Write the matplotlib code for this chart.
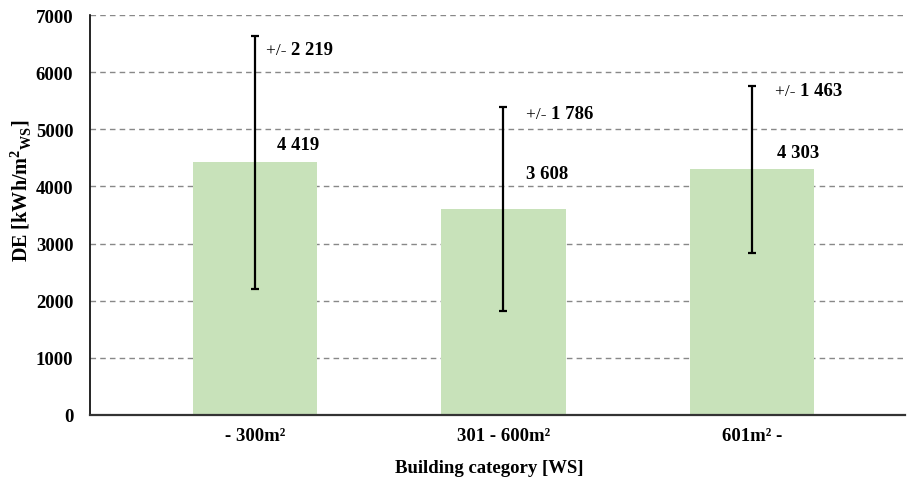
import numpy as np
import matplotlib.pyplot as plt

plt.rcParams['font.family'] = ['Liberation Serif', 'DejaVu Serif']
plt.rcParams['font.weight'] = 'bold'
plt.rcParams['mathtext.fontset'] = 'custom'
plt.rcParams['mathtext.rm'] = 'Liberation Serif:bold'
plt.rcParams['mathtext.bf'] = 'Liberation Serif:bold'

categories = ['- 300m²', '301 - 600m²', '601m² -']
de_mean = [4419, 3608, 4303]
de_std = [2219, 1786, 1463]
yticks = [0, 1000, 2000, 3000, 4000, 5000, 6000, 7000]

# label offsets in pixels: (dx from bar centre, dy from bar top / error top)
mean_offsets = [(22, 18), (23, 35), (25, 17)]
std_offsets = [(11, -14), (23, -7), (23, -5)]

FS = 13.5

def fmt(v):
    return f'{v:,}'.replace(',', ' ')

fig = plt.figure(figsize=(9.07, 4.85), dpi=100)
ax = fig.add_axes([0.0992, 0.1423, 0.8986, 0.8247])

x = np.arange(len(categories))
ax.bar(x, de_mean, width=0.5, color='#C8E2BA', zorder=2)
ax.errorbar(x, de_mean, yerr=de_std, fmt='none', ecolor='black',
            elinewidth=1.6, capsize=3, capthick=1.6, zorder=3)

for i in range(len(x)):
    dx, dy = mean_offsets[i]
    ax.annotate(fmt(de_mean[i]), (x[i], de_mean[i]), xytext=(dx, dy),
                textcoords='offset pixels', ha='left', va='center',
                fontsize=FS, fontweight='bold')
    dx, dy = std_offsets[i]
    pm = ax.annotate('+/- ', (x[i], de_mean[i] + de_std[i]), xytext=(dx, dy),
                     textcoords='offset pixels', ha='left', va='center',
                     fontsize=12.5, fontweight='normal')
    ax.annotate(fmt(de_std[i]), xy=(1, 0.5), xycoords=pm,
                xytext=(0, 0), textcoords='offset pixels',
                ha='left', va='center', fontsize=FS, fontweight='bold')

ax.set_xlim(-0.664, 2.616)
ax.set_ylim(0, 7000)
ax.set_yticks(yticks)
ax.set_xticks(x)
ax.set_xticklabels(categories)
ax.tick_params(axis='both', length=0, labelsize=FS)
ax.tick_params(axis='y', pad=12)
ax.tick_params(axis='x', pad=9)
for lbl in ax.get_xticklabels() + ax.get_yticklabels():
    lbl.set_fontweight('bold')

ax.grid(axis='y', linestyle=(0, (4, 3)), color='#888888', linewidth=1, zorder=0)
ax.set_axisbelow(True)
for s in ['top', 'right']:
    ax.spines[s].set_visible(False)
ax.spines['left'].set_linewidth(1.2)
ax.spines['bottom'].set_linewidth(1.6)
ax.spines['bottom'].set_color('#333333')

ax.set_ylabel(r'DE [kWh/m$^{2}$$_{\mathrm{WS}}$]', fontsize=14.5, fontweight='bold')
ax.yaxis.set_label_coords(-0.069, 0.5625)
ax.set_xlabel('Building category [WS]', fontsize=FS, fontweight='bold')
ax.xaxis.set_label_coords(0.49, -0.11)
ax.xaxis.label.set_va('top')

fig.savefig('out.png', dpi=100)
